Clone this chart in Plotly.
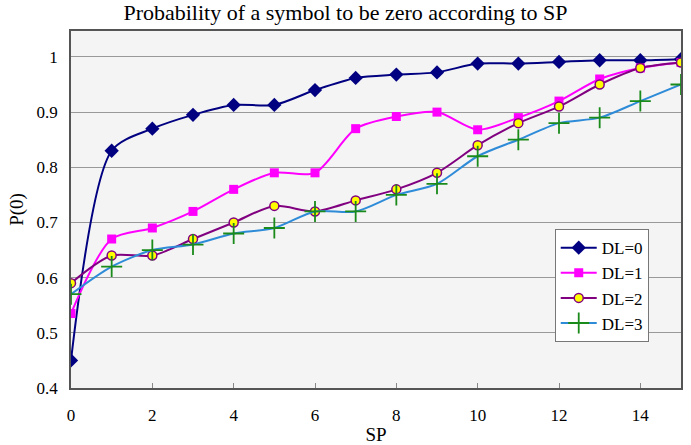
import plotly.graph_objects as go

sp = list(range(16))
dl0 = [0.45, 0.83, 0.87, 0.895, 0.913, 0.913, 0.94, 0.962, 0.968, 0.972, 0.988, 0.988, 0.991, 0.994, 0.994, 0.996]
dl1 = [0.535, 0.67, 0.69, 0.72, 0.76, 0.79, 0.79, 0.87, 0.892, 0.90, 0.868, 0.89, 0.92, 0.96, 0.98, 0.99]
dl2 = [0.59, 0.64, 0.64, 0.67, 0.70, 0.73, 0.72, 0.74, 0.76, 0.79, 0.84, 0.88, 0.91, 0.95, 0.98, 0.99]
dl3 = [0.57, 0.62, 0.65, 0.66, 0.68, 0.69, 0.72, 0.72, 0.75, 0.77, 0.82, 0.85, 0.88, 0.89, 0.92, 0.95]
y_ticks = [0.4, 0.5, 0.6, 0.7, 0.8, 0.9, 1.0]
y_labels = ["0.4", "0.5", "0.6", "0.7", "0.8", "0.9", "1"]
x_ticks = [0, 2, 4, 6, 8, 10, 12, 14]

FONT = "Liberation Serif, DejaVu Serif, serif"

fig = go.Figure()
fig.add_trace(go.Scatter(x=sp, y=dl0, name="DL=0", mode="lines+markers",
                         line=dict(color="#000080", width=2, shape="spline", smoothing=0.8),
                         marker=dict(symbol="diamond", size=11, color="#000080")))
fig.add_trace(go.Scatter(x=sp, y=dl1, name="DL=1", mode="lines+markers",
                         line=dict(color="#ff00ff", width=2, shape="spline", smoothing=0.8),
                         marker=dict(symbol="square", size=9, color="#ff00ff")))
fig.add_trace(go.Scatter(x=sp, y=dl2, name="DL=2", mode="lines+markers",
                         line=dict(color="#800080", width=2, shape="spline", smoothing=0.8),
                         marker=dict(symbol="circle", size=9, color="#ffff00",
                                     line=dict(color="#800080", width=1.5))))
fig.add_trace(go.Scatter(x=sp, y=dl3, name="DL=3", mode="lines+markers",
                         line=dict(color="#2e8bd8", width=2, shape="spline", smoothing=0.8),
                         marker=dict(symbol="cross-thin", size=15, color="#1a8a1a",
                                     line=dict(color="#1a8a1a", width=1.8))))

fig.update_layout(
    width=691, height=445,
    margin=dict(l=71, r=10, t=31, b=57),
    paper_bgcolor="white",
    plot_bgcolor="#f4f4f4",
    font=dict(family=FONT, size=17, color="black"),
    title=dict(text="Probability of a symbol to be zero according to SP",
               x=0.5, xanchor="center", y=0.99, yanchor="top",
               font=dict(family=FONT, size=22)),
    xaxis=dict(range=[0, 15], tickvals=x_ticks, ticks="inside", ticklen=5,
               tickcolor="#888888", showgrid=False, zeroline=False,
               showline=True, linecolor="#555555", linewidth=1.5, mirror=True,
               ticklabelstandoff=11, automargin=False,
               title=dict(text="SP", standoff=4, font=dict(family=FONT, size=19)),
               tickfont=dict(family=FONT, size=17)),
    yaxis=dict(range=[0.4, 1.047], tickvals=y_ticks, ticktext=y_labels,
               ticks="", showgrid=True, gridcolor="#999999", gridwidth=1,
               zeroline=False, showline=True, linecolor="#555555", linewidth=1.5,
               mirror=True, ticklabelstandoff=8, automargin=False,
               title=dict(text="P(0)", standoff=8, font=dict(family=FONT, size=19)),
               tickfont=dict(family=FONT, size=17)),
    legend=dict(x=0.793, y=0.445, xanchor="left", yanchor="top",
                bgcolor="white", bordercolor="#777777", borderwidth=1,
                font=dict(family=FONT, size=17), tracegroupgap=2,
                itemwidth=36),
    showlegend=True,
)

fig.write_html("out.html")
